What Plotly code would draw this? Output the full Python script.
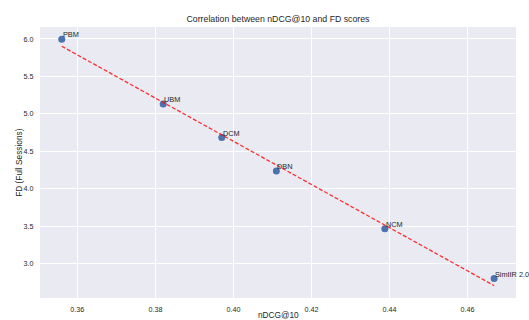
import numpy as np
import plotly.graph_objects as go

models = ["PBM", "UBM", "DCM", "DBN", "NCM", "SimIIR 2.0"]
ndcg = [0.356, 0.382, 0.397, 0.411, 0.4388, 0.4668]
fd = [5.995, 5.13, 4.684, 4.236, 3.465, 2.80]

x_ticks = [0.36, 0.38, 0.40, 0.42, 0.44, 0.46]
y_ticks = [3.0, 3.5, 4.0, 4.5, 5.0, 5.5, 6.0]

slope, intercept = np.polyfit(ndcg, fd, 1)
x_line = np.array([min(ndcg), max(ndcg)])
y_line = slope * x_line + intercept

FONT = "Liberation Sans, Arial, sans-serif"
TXT = "#262626"

fig = go.Figure()
fig.add_trace(go.Scatter(
    x=ndcg, y=fd, mode="markers",
    marker=dict(color="#4C72B0", size=7, line=dict(width=0)),
    showlegend=False, hoverinfo="skip"))
fig.add_trace(go.Scatter(
    x=x_line, y=y_line, mode="lines",
    line=dict(color="rgba(255,0,0,0.8)", width=1.3, dash="4px,2px"),
    showlegend=False, hoverinfo="skip"))

for m, xv, yv in zip(models, ndcg, fd):
    fig.add_annotation(x=xv, y=yv, text=m, showarrow=False,
                       xanchor="left", yanchor="bottom", xshift=-1, yshift=-2,
                       font=dict(family=FONT, size=7.3, color=TXT))

fig.add_annotation(xref="paper", yref="paper", x=0.5, y=0, yshift=-17,
                   text="nDCG@10", showarrow=False, xanchor="center", yanchor="middle",
                   font=dict(family=FONT, size=8.3, color=TXT))
fig.add_annotation(xref="paper", yref="paper", x=0, y=0.5, xshift=-21.7,
                   text="FD (Full Sessions)", showarrow=False, textangle=-90,
                   xanchor="center", yanchor="middle",
                   font=dict(family=FONT, size=8.3, color=TXT))

fig.update_layout(
    width=529, height=320,
    margin=dict(l=40, r=13, t=27, b=22),
    paper_bgcolor="white", plot_bgcolor="#EAEAF2",
    title=dict(text="Correlation between nDCG@10 and FD scores",
               x=0.5, xref="paper", xanchor="center",
               y=1 - 19 / 320, yanchor="middle",
               font=dict(family=FONT, size=8.75, color=TXT)),
    font=dict(family=FONT, color=TXT),
)
fig.update_xaxes(range=[0.35043, 0.47241], tickvals=x_ticks,
                 ticktext=[f"{v:.2f}" for v in x_ticks],
                 showgrid=True, gridcolor="white", gridwidth=1, zeroline=False,
                 showline=False, ticks="outside", ticklen=4, tickcolor="rgba(0,0,0,0)",
                 tickfont=dict(family=FONT, size=7.2, color=TXT), automargin=False)
fig.update_yaxes(range=[2.54, 6.16], tickvals=y_ticks,
                 ticktext=[f"{v:.1f}" for v in y_ticks],
                 showgrid=True, gridcolor="white", gridwidth=1, zeroline=False,
                 showline=False, ticks="outside", ticklen=4, tickcolor="rgba(0,0,0,0)",
                 tickfont=dict(family=FONT, size=7.2, color=TXT), automargin=False)

fig.write_html("out.html", config={"displayModeBar": False},
               post_script="document.body.style.margin='0';document.body.style.overflow='hidden';")
